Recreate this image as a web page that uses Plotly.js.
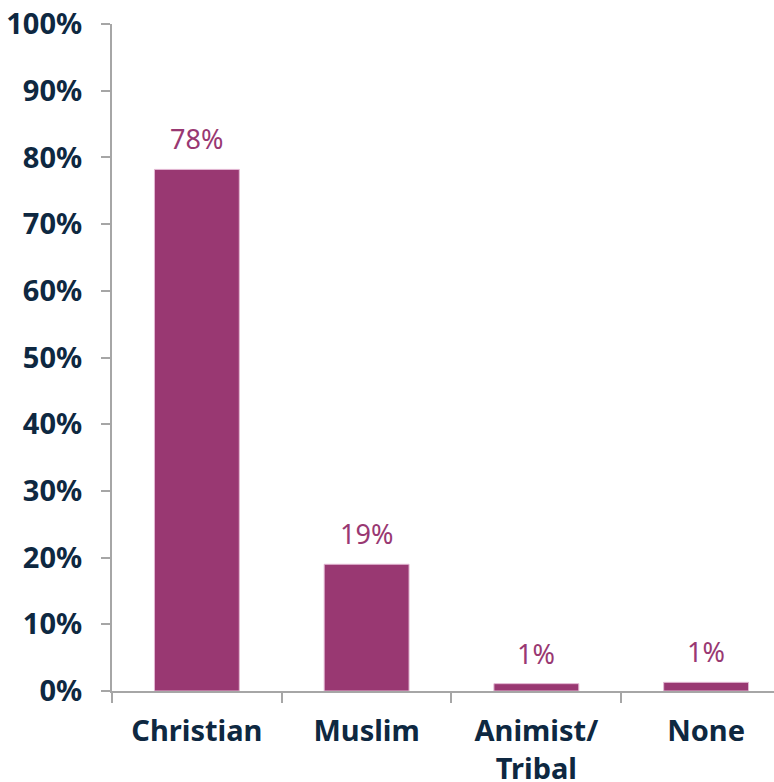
<!DOCTYPE html>
<html>
<head>
<meta charset="utf-8">
<script src="https://cdn.plot.ly/plotly-3.0.1.min.js"></script>
<style>html,body{margin:0;padding:0;background:#fff;}#chart{width:774px;height:782px;}</style>
</head>
<body>
<div id="chart"></div>
<script>
const categories = ["Christian", "Muslim", "Animist/<br>Tribal", "None"];
const shares = [78.2, 19.0, 1.1, 1.3];
const labels = ["78%", "19%", "1%", "1%"];
const yTickVals = [0, 10, 20, 30, 40, 50, 60, 70, 80, 90, 100];
const yTickText = ["0%", "10%", "20%", "30%", "40%", "50%", "60%", "70%", "80%", "90%", "100%"];

const barColor = "#993872";
const textColor = "#0E2841";
const axisColor = "#A6A6A6";
const font = "Noto Sans, Liberation Sans, sans-serif";

const trace = {
  type: "bar",
  x: categories,
  y: shares,
  width: 0.5,
  marker: { color: barColor, line: { color: "#E3B8D3", width: 1 } },
  hoverinfo: "skip"
};

const annotations = categories.map((c, i) => ({
  x: c, y: shares[i], xref: "x", yref: "y",
  text: labels[i], showarrow: false,
  yanchor: "bottom", yshift: 10,
  font: { family: font, size: 27, color: barColor }
}));

const layout = {
  width: 774, height: 782,
  margin: { l: 112, r: 0, t: 24, b: 91 },
  paper_bgcolor: "#fff", plot_bgcolor: "#fff",
  showlegend: false,
  font: { family: font, color: textColor },
  xaxis: {
    type: "category",
    range: [-0.5, 3.4],
    showline: true, linecolor: axisColor, linewidth: 2,
    ticks: "outside", ticklen: 10, tickcolor: axisColor, tickwidth: 2,
    tickson: "boundaries",
    showgrid: false, zeroline: false,
    tickfont: { family: font, size: 29, color: textColor, weight: "bold" },
    ticklabelstandoff: 13
  },
  yaxis: {
    range: [0, 100],
    tickvals: yTickVals, ticktext: yTickText,
    showline: true, linecolor: axisColor, linewidth: 2,
    ticks: "outside", ticklen: 9, tickcolor: axisColor, tickwidth: 2,
    showgrid: false, zeroline: false,
    tickfont: { family: font, size: 29, color: textColor, weight: "bold" },
    ticklabelstandoff: 13
  },
  annotations: annotations
};

Plotly.newPlot("chart", [trace], layout, { staticPlot: true, displayModeBar: false });
</script>
</body>
</html>
